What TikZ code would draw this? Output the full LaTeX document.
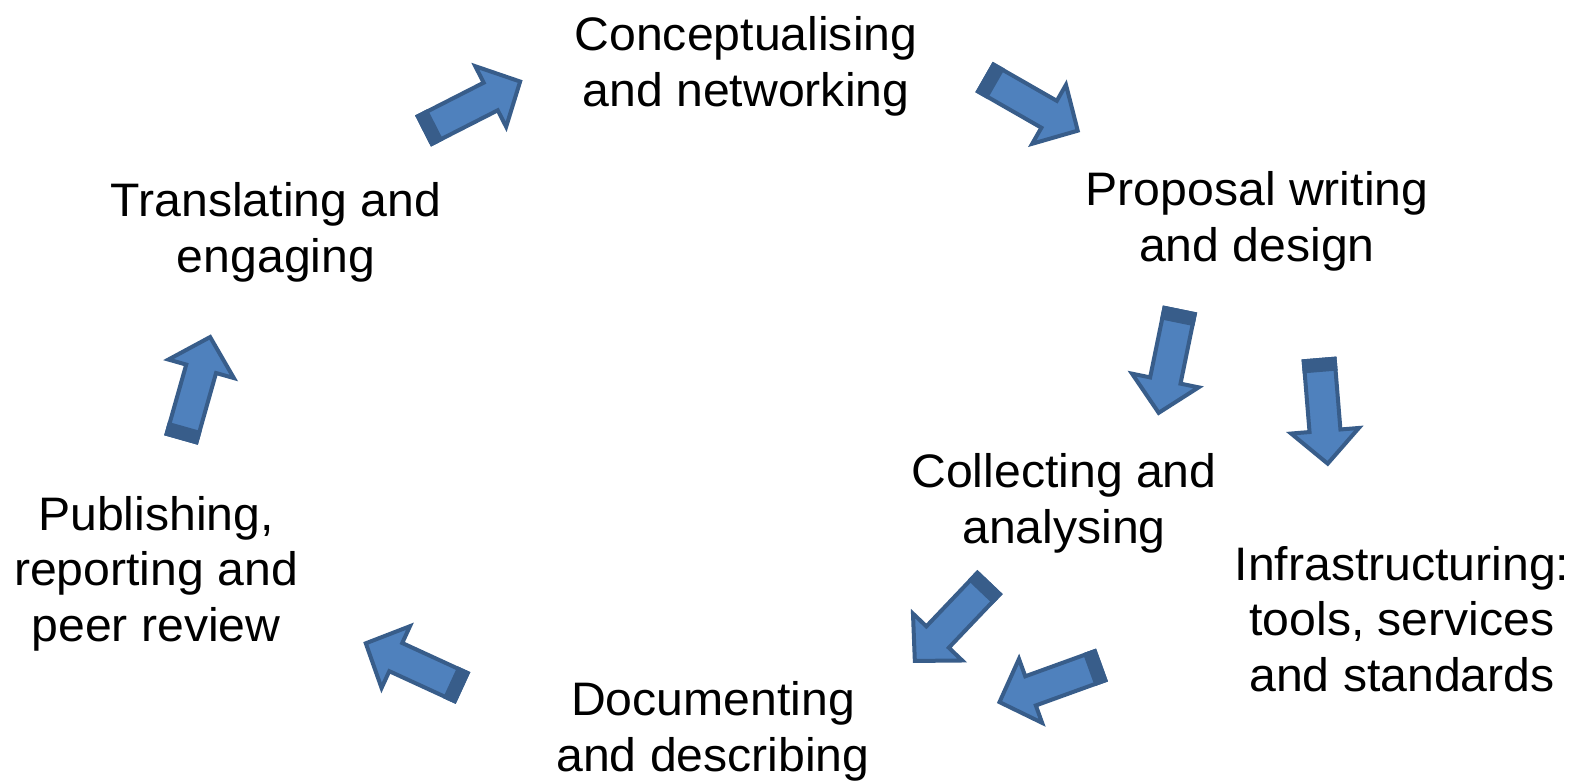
\documentclass[tikz,border=0pt]{standalone}
\usepackage{fontspec}
\setmainfont[FakeStretch=1.025]{Liberation Sans}
\definecolor{arrfill}{HTML}{4F81BD}
\definecolor{arrline}{HTML}{385D8A}
\newcommand\lblfont{\fontsize{47}{55.5}\selectfont}
\tikzset{
  lbl/.style={font=\lblfont, align=center, inner sep=0pt, anchor=base, text=black},
  arrowbody/.style={fill=arrfill, draw=arrline, line width=4pt, line join=miter},
  arrowtail/.style={fill=arrline}
}
% #1,#2 tail centre (image px), #3 angle, #4 length
\newcommand\blockarrow[4]{%
  \begin{scope}[shift={(#1,#2)}, rotate=#3]
    \path[arrowbody] (2,-15.5) -- (#4-36,-15.5) -- (#4-36,-34) -- (#4-3,0)
      -- (#4-36,34) -- (#4-36,15.5) -- (2,15.5) -- cycle;
    \path[arrowtail] (0,-17.5) rectangle (14,17.5);
  \end{scope}}
\begin{document}
\begin{tikzpicture}[x=1pt, y=-1pt]
  \useasboundingbox[fill=white] (0,0) rectangle (1576,780);
  % labels (anchor = baseline of last line)
  \node[lbl] (concept) at (746,106) {Conceptualising\\and networking};
  \node[lbl] (proposal) at (1257,261) {Proposal writing\\and design};
  \node[lbl] (translate) at (276,272) {Translating and\\engaging};
  \node[lbl] (collect) at (1064,543) {Collecting and\\analysing};
  \node[lbl] (infra) at (1402,691) {Infrastructuring:\\tools, services\\and standards};
  \node[lbl] (publish) at (156,641) {Publishing,\\reporting and\\peer review};
  \node[lbl] (document) at (713,771) {Documenting\\and describing};
  % block arrows
  \blockarrow{423}{131}{27.0}{112}
  \blockarrow{984}{77}{-29.8}{111}
  \blockarrow{1180}{309}{-101.6}{109}
  \blockarrow{1319}{358}{-85.3}{109}
  \blockarrow{990}{582}{-133.6}{112}
  \blockarrow{1102}{665}{-160.1}{112}
  \blockarrow{463}{688}{155.3}{110}
  \blockarrow{181}{440}{74.2}{110}
\end{tikzpicture}
\end{document}
